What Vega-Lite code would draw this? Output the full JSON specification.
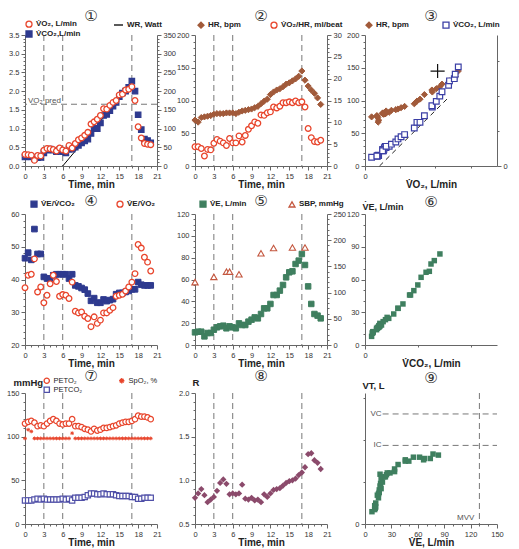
{
"$schema":"https://vega.github.io/schema/vega-lite/v6.json",
"padding":{"left":6,"top":9,"right":0,"bottom":0},
"bounds":"flush",
"columns":3,
"spacing":{"row":48,"column":38},
"resolve":{"scale":{"shape":"independent","fill":"independent","stroke":"independent","color":"independent"},"legend":{"shape":"independent","fill":"independent","stroke":"independent","color":"independent"}},
"datasets":{
"ts":[
{"t":0,"vo2":0.31,"vco2":0.24,"hr":70,"o2p":4.4,"eqco2":46.5,"eqo2":37.5,"ve":11.6,"peto2":115,"petco2":27,"spo2":98,"r":0.80,"vt":0.60},
{"t":0.5,"vo2":0.30,"vco2":0.25,"hr":67,"o2p":4.4,"eqco2":48.2,"eqo2":41.3,"ve":12.2,"peto2":117,"petco2":27,"spo2":108,"r":0.85,"vt":0.65},
{"t":1,"vo2":0.29,"vco2":0.24,"hr":74,"o2p":4.0,"eqco2":46.0,"eqo2":41.6,"ve":12.2,"peto2":118,"petco2":27,"spo2":106,"r":0.90,"vt":0.80},
{"t":1.5,"vo2":0.15,"vco2":0.20,"hr":75,"o2p":2.3,"eqco2":55.4,"eqo2":46.3,"ve":7.9,"peto2":116,"petco2":28,"spo2":98,"r":0.83,"vt":0.47},
{"t":2,"vo2":0.28,"vco2":0.22,"hr":76,"o2p":3.8,"eqco2":47.8,"eqo2":36.2,"ve":11.0,"peto2":112,"petco2":29,"spo2":98,"r":0.75,"vt":0.55},
{"t":2.5,"vo2":0.27,"vco2":0.23,"hr":77,"o2p":3.7,"eqco2":47.8,"eqo2":37.7,"ve":11.0,"peto2":113,"petco2":28,"spo2":98,"r":0.78,"vt":0.70},
{"t":3,"vo2":0.42,"vco2":0.35,"hr":79,"o2p":5.2,"eqco2":40.8,"eqo2":32.9,"ve":14.0,"peto2":112,"petco2":29,"spo2":98,"r":0.81,"vt":1.10},
{"t":3.5,"vo2":0.47,"vco2":0.42,"hr":80,"o2p":6.1,"eqco2":40.3,"eqo2":35.2,"ve":16.2,"peto2":115,"petco2":28,"spo2":98,"r":0.88,"vt":1.30},
{"t":4,"vo2":0.46,"vco2":0.45,"hr":80,"o2p":5.7,"eqco2":40.3,"eqo2":38.7,"ve":17.1,"peto2":118,"petco2":28,"spo2":98,"r":0.97,"vt":1.45},
{"t":4.5,"vo2":0.44,"vco2":0.42,"hr":80,"o2p":5.3,"eqco2":41.3,"eqo2":41.3,"ve":17.7,"peto2":120,"petco2":28,"spo2":98,"r":1.01,"vt":1.55},
{"t":5,"vo2":0.40,"vco2":0.38,"hr":81,"o2p":4.7,"eqco2":41.6,"eqo2":39.4,"ve":15.3,"peto2":118,"petco2":28,"spo2":98,"r":0.96,"vt":1.15},
{"t":5.5,"vo2":0.48,"vco2":0.43,"hr":81,"o2p":6.3,"eqco2":41.6,"eqo2":34.9,"ve":17.1,"peto2":115,"petco2":28,"spo2":98,"r":0.84,"vt":1.90},
{"t":6,"vo2":0.43,"vco2":0.38,"hr":81,"o2p":5.3,"eqco2":41.6,"eqo2":35.4,"ve":16.2,"peto2":114,"petco2":29,"spo2":98,"r":0.85,"vt":1.20},
{"t":6.5,"vo2":0.40,"vco2":0.35,"hr":80,"o2p":5.3,"eqco2":41.6,"eqo2":35.2,"ve":15.3,"peto2":115,"petco2":28,"spo2":98,"r":0.84,"vt":1.00},
{"t":7,"vo2":0.55,"vco2":0.45,"hr":82,"o2p":6.9,"eqco2":40.3,"eqo2":34.2,"ve":19.8,"peto2":115,"petco2":29,"spo2":98,"r":0.85,"vt":1.60},
{"t":7.5,"vo2":0.48,"vco2":0.45,"hr":84,"o2p":5.5,"eqco2":41.6,"eqo2":39.2,"ve":18.3,"peto2":120,"petco2":27,"spo2":104,"r":0.95,"vt":1.75},
{"t":8,"vo2":0.60,"vco2":0.50,"hr":85,"o2p":7.0,"eqco2":38.2,"eqo2":30.3,"ve":18.3,"peto2":112,"petco2":30,"spo2":98,"r":0.79,"vt":1.35},
{"t":8.5,"vo2":0.70,"vco2":0.55,"hr":86,"o2p":8.4,"eqco2":37.9,"eqo2":29.8,"ve":21.4,"peto2":112,"petco2":30,"spo2":98,"r":0.78,"vt":1.80},
{"t":9,"vo2":0.75,"vco2":0.62,"hr":87,"o2p":9.2,"eqco2":37.4,"eqo2":30.1,"ve":23.2,"peto2":111,"petco2":30,"spo2":98,"r":0.80,"vt":1.80},
{"t":9.5,"vo2":0.82,"vco2":0.67,"hr":89,"o2p":10.1,"eqco2":36.9,"eqo2":28.8,"ve":25.3,"peto2":109,"petco2":31,"spo2":98,"r":0.77,"vt":1.95},
{"t":10,"vo2":0.90,"vco2":0.72,"hr":91,"o2p":9.8,"eqco2":35.7,"eqo2":28.1,"ve":24.4,"peto2":108,"petco2":33,"spo2":98,"r":0.78,"vt":1.88},
{"t":10.5,"vo2":1.12,"vco2":0.87,"hr":95,"o2p":11.7,"eqco2":33.5,"eqo2":25.6,"ve":28.4,"peto2":106,"petco2":35,"spo2":98,"r":0.75,"vt":1.95},
{"t":11,"vo2":1.18,"vco2":1.00,"hr":99,"o2p":11.6,"eqco2":34.3,"eqo2":28.6,"ve":33.6,"peto2":109,"petco2":35,"spo2":98,"r":0.84,"vt":2.00},
{"t":11.5,"vo2":1.25,"vco2":1.00,"hr":102,"o2p":12.2,"eqco2":32.9,"eqo2":26.6,"ve":33.6,"peto2":107,"petco2":34,"spo2":98,"r":0.81,"vt":2.10},
{"t":12,"vo2":1.35,"vco2":1.15,"hr":109,"o2p":12.4,"eqco2":32.9,"eqo2":27.6,"ve":37.6,"peto2":108,"petco2":34,"spo2":98,"r":0.85,"vt":2.27},
{"t":12.5,"vo2":1.53,"vco2":1.35,"hr":113,"o2p":13.5,"eqco2":33.9,"eqo2":29.8,"ve":45.8,"peto2":110,"petco2":35,"spo2":98,"r":0.89,"vt":2.40},
{"t":13,"vo2":1.52,"vco2":1.38,"hr":116,"o2p":13.3,"eqco2":33.4,"eqo2":29.8,"ve":45.8,"peto2":110,"petco2":34,"spo2":98,"r":0.90,"vt":2.45},
{"t":13.5,"vo2":1.62,"vco2":1.48,"hr":118,"o2p":13.7,"eqco2":33.7,"eqo2":30.6,"ve":49.8,"peto2":111,"petco2":34,"spo2":98,"r":0.91,"vt":2.40},
{"t":14,"vo2":1.70,"vco2":1.60,"hr":121,"o2p":14.5,"eqco2":34.0,"eqo2":31.4,"ve":55.0,"peto2":112,"petco2":34,"spo2":98,"r":0.94,"vt":2.55},
{"t":14.5,"vo2":1.75,"vco2":1.70,"hr":125,"o2p":14.5,"eqco2":35.5,"eqo2":34.9,"ve":62.0,"peto2":113,"petco2":33,"spo2":98,"r":0.97,"vt":2.55},
{"t":15,"vo2":1.90,"vco2":1.85,"hr":127,"o2p":14.7,"eqco2":35.9,"eqo2":35.2,"ve":66.6,"peto2":115,"petco2":32,"spo2":98,"r":0.99,"vt":2.45},
{"t":15.5,"vo2":1.92,"vco2":1.95,"hr":130,"o2p":14.5,"eqco2":35.9,"eqo2":35.5,"ve":67.5,"peto2":116,"petco2":32,"spo2":98,"r":1.00,"vt":2.50},
{"t":16,"vo2":2.03,"vco2":2.00,"hr":133,"o2p":14.9,"eqco2":36.2,"eqo2":36.5,"ve":74.2,"peto2":117,"petco2":32,"spo2":98,"r":1.02,"vt":2.50},
{"t":16.5,"vo2":2.05,"vco2":2.10,"hr":137,"o2p":14.5,"eqco2":36.5,"eqo2":37.7,"ve":77.3,"peto2":117,"petco2":32,"spo2":98,"r":1.06,"vt":2.67},
{"t":17,"vo2":2.12,"vco2":2.27,"hr":145,"o2p":14.7,"eqco2":37.0,"eqo2":39.2,"ve":83.4,"peto2":118,"petco2":31,"spo2":98,"r":1.09,"vt":2.63},
{"t":17.5,"vo2":1.75,"vco2":2.00,"hr":131,"o2p":13.5,"eqco2":37.0,"eqo2":41.8,"ve":73.3,"peto2":120,"petco2":31,"spo2":98,"r":1.15,"vt":2.60},
{"t":18,"vo2":1.05,"vco2":1.37,"hr":122,"o2p":8.6,"eqco2":39.2,"eqo2":50.7,"ve":53.7,"peto2":124,"petco2":29,"spo2":98,"r":1.30,"vt":2.30},
{"t":18.5,"vo2":0.75,"vco2":0.97,"hr":116,"o2p":6.5,"eqco2":38.4,"eqo2":49.6,"ve":37.6,"peto2":123,"petco2":29,"spo2":98,"r":1.31,"vt":1.90},
{"t":19,"vo2":0.60,"vco2":0.72,"hr":111,"o2p":5.6,"eqco2":38.2,"eqo2":46.8,"ve":28.4,"peto2":123,"petco2":30,"spo2":98,"r":1.23,"vt":1.60},
{"t":19.5,"vo2":0.58,"vco2":0.68,"hr":104,"o2p":5.5,"eqco2":38.2,"eqo2":45.3,"ve":26.9,"peto2":122,"petco2":30,"spo2":98,"r":1.20,"vt":1.50},
{"t":20,"vo2":0.57,"vco2":0.62,"hr":94,"o2p":5.9,"eqco2":38.2,"eqo2":42.6,"ve":24.4,"peto2":120,"petco2":30,"spo2":98,"r":1.13,"vt":1.40}
],
"sbp":[{"t":0,"sbp":120},{"t":3,"sbp":130},{"t":5,"sbp":140},{"t":5.5,"sbp":140},{"t":7,"sbp":135},{"t":10.5,"sbp":175},{"t":12.5,"sbp":185},{"t":15.5,"sbp":186},{"t":17.5,"sbp":186}],
"phases":[{"t":3},{"t":6},{"t":17}],
"wr":[{"t":6,"wr":0},{"t":17,"wr":220}],
"pred":[{"vo2pred":1.65,"hrpred":145,"label":"VO₂ pred"}],
"slope":[{"x":0.33,"y":0},{"x":1.9,"y":1.57}],
"vols":[{"name":"VC","v":4.2},{"name":"IC","v":3.0}],
"mvv":[{"name":"MVV","v":130}]
},
"concat":[
{"width":132,"height":131,"title":{"text":"①","offset":-4},
"resolve":{"scale":{"y":"independent"}},
"layer":[
{"data":{"name":"phases"},"mark":{"type":"rule","color":"#777","strokeDash":[6,4],"strokeWidth":1},
"encoding":{"x":{"field":"t","type":"quantitative","scale":{"domain":[0,21],"nice":false},"axis":{"title":"Time, min","format":"d","tickCount":100,"labelOverlap":false,"values":[0,1,2,3,4,5,6,7,8,9,10,11,12,13,14,15,16,17,18,19,20,21],"labelExpr":"datum.value % 3 === 0 ? datum.label : ''","tickSize":{"condition":{"test":"datum.value % 3 === 0","value":4},"value":2}}}}},
{"data":{"name":"wr"},"mark":{"type":"line","strokeWidth":1},
"encoding":{"x":{"field":"t","type":"quantitative","scale":{"domain":[0,21],"nice":false}},
"y":{"field":"wr","type":"quantitative","scale":{"domain":[0,350],"nice":false},"axis":{"orient":"right","title":null,"format":"d","tickCount":100,"labelOverlap":false,"values":[0,10,20,30,40,50,60,70,80,90,100,110,120,130,140,150,160,170,180,190,200,210,220,230,240,250,260,270,280,290,300,310,320,330,340,350],"labelExpr":"datum.value % 50 === 0 ? datum.label : ''","tickSize":{"condition":{"test":"datum.value % 50 === 0","value":4},"value":2}}},
"stroke":{"datum":"WR, Watt","scale":{"domain":["V̇O₂, L/min","WR, Watt","V̇CO₂,L/min"],"range":["#E8452C","#000000","#2E3A8F"]},"legend":{"orient":"none","title":null,"legendX":0,"legendY":-15,"columnPadding":30,"rowPadding":-10}}}},
{"layer":[
{"data":{"name":"pred"},"mark":{"type":"rule","color":"#777","strokeDash":[6,4],"strokeWidth":1},
"encoding":{"y":{"field":"vo2pred","type":"quantitative","scale":{"domain":[0,3.5],"nice":false},"axis":{"orient":"left","title":null,"format":".1f","tickCount":100,"labelOverlap":false,"values":[0,0.1,0.2,0.3,0.4,0.5,0.6,0.7,0.8,0.9,1,1.1,1.2,1.3,1.4,1.5,1.6,1.7,1.8,1.9,2,2.1,2.2,2.3,2.4,2.5,2.6,2.7,2.8,2.9,3,3.1,3.2,3.3,3.4,3.5],"labelExpr":"round(datum.value*10) % 5 === 0 ? datum.label : ''","tickSize":{"condition":{"test":"round(datum.value*10) % 5 === 0","value":4},"value":2}}}}},
{"data":{"name":"pred"},"mark":{"type":"text","align":"left","baseline":"alphabetic","dx":3,"dy":-1,"fontSize":8,"color":"#555","font":"Liberation Sans"},
"encoding":{"x":{"datum":0,"type":"quantitative"},"y":{"field":"vo2pred","type":"quantitative","scale":{"domain":[0,3.5],"nice":false}},"text":{"field":"label"}}},
{"data":{"name":"ts"},"mark":{"type":"point","opacity":1,"strokeWidth":1.2,"size":30},
"encoding":{"x":{"field":"t","type":"quantitative","scale":{"domain":[0,21],"nice":false}},"y":{"field":"vco2","type":"quantitative","scale":{"domain":[0,3.5],"nice":false}},
"shape":{"datum":"V̇CO₂,L/min","scale":{"domain":["V̇O₂, L/min","WR, Watt","V̇CO₂,L/min"],"range":["circle","M-2,0H1","square"]},"legend":{"orient":"none","title":null,"legendX":0,"legendY":-15,"columnPadding":30,"rowPadding":-10}},
"fill":{"datum":"V̇CO₂,L/min","scale":{"domain":["V̇O₂, L/min","WR, Watt","V̇CO₂,L/min"],"range":["#FFFFFF","transparent","#2E3A8F"]},"legend":{"orient":"none","title":null,"legendX":0,"legendY":-15,"columnPadding":30,"rowPadding":-10}},
"stroke":{"datum":"V̇CO₂,L/min","scale":{"domain":["V̇O₂, L/min","WR, Watt","V̇CO₂,L/min"],"range":["#E8452C","#000000","#2E3A8F"]},"legend":{"orient":"none","title":null,"legendX":0,"legendY":-15,"columnPadding":30,"rowPadding":-10}}}},
{"data":{"name":"ts"},"mark":{"type":"point","opacity":1,"strokeWidth":1.3,"size":32},
"encoding":{"x":{"field":"t","type":"quantitative","scale":{"domain":[0,21],"nice":false}},"y":{"field":"vo2","type":"quantitative","scale":{"domain":[0,3.5],"nice":false}},
"shape":{"datum":"V̇O₂, L/min","scale":{"domain":["V̇O₂, L/min","WR, Watt","V̇CO₂,L/min"],"range":["circle","M-2,0H1","square"]},"legend":{"orient":"none","title":null,"legendX":0,"legendY":-15,"columnPadding":30,"rowPadding":-10}},
"fill":{"datum":"V̇O₂, L/min","scale":{"domain":["V̇O₂, L/min","WR, Watt","V̇CO₂,L/min"],"range":["#FFFFFF","transparent","#2E3A8F"]},"legend":{"orient":"none","title":null,"legendX":0,"legendY":-15,"columnPadding":30,"rowPadding":-10}},
"stroke":{"datum":"V̇O₂, L/min","scale":{"domain":["V̇O₂, L/min","WR, Watt","V̇CO₂,L/min"],"range":["#E8452C","#000000","#2E3A8F"]},"legend":{"orient":"none","title":null,"legendX":0,"legendY":-15,"columnPadding":30,"rowPadding":-10}}}}
]}
]},
{"width":132,"height":131,"title":{"text":"②","offset":-3},
"resolve":{"scale":{"y":"independent"}},
"layer":[
{"data":{"name":"phases"},"mark":{"type":"rule","color":"#777","strokeDash":[6,4],"strokeWidth":1},
"encoding":{"x":{"field":"t","type":"quantitative","scale":{"domain":[0,21],"nice":false},"axis":{"title":"Time, min","format":"d","tickCount":100,"labelOverlap":false,"values":[0,1,2,3,4,5,6,7,8,9,10,11,12,13,14,15,16,17,18,19,20,21],"labelExpr":"datum.value % 3 === 0 ? datum.label : ''","tickSize":{"condition":{"test":"datum.value % 3 === 0","value":4},"value":2}}}}},
{"data":{"name":"ts"},"mark":{"type":"point","opacity":1,"strokeWidth":1,"size":38},
"encoding":{"x":{"field":"t","type":"quantitative","scale":{"domain":[0,21],"nice":false}},
"y":{"field":"hr","type":"quantitative","scale":{"domain":[0,200],"nice":false},"axis":{"orient":"left","title":null,"format":"d","tickCount":100,"labelOverlap":false,"values":[0,10,20,30,40,50,60,70,80,90,100,110,120,130,140,150,160,170,180,190,200],"labelExpr":"datum.value % 50 === 0 ? datum.label : ''","tickSize":{"condition":{"test":"datum.value % 50 === 0","value":4},"value":2}}},
"shape":{"datum":"HR, bpm","scale":{"domain":["HR, bpm","V̇O₂/HR, ml/beat"],"range":["diamond","circle"]},"legend":{"orient":"none","title":null,"legendX":2,"legendY":-14,"columnPadding":27}},
"fill":{"datum":"HR, bpm","scale":{"domain":["HR, bpm","V̇O₂/HR, ml/beat"],"range":["#A15A3A","#FFFFFF"]},"legend":{"orient":"none","title":null,"legendX":2,"legendY":-14,"columnPadding":27}},
"stroke":{"datum":"HR, bpm","scale":{"domain":["HR, bpm","V̇O₂/HR, ml/beat"],"range":["#A15A3A","#E8452C"]},"legend":{"orient":"none","title":null,"legendX":2,"legendY":-14,"columnPadding":27}}}},
{"data":{"name":"ts"},"mark":{"type":"point","opacity":1,"strokeWidth":1.3,"size":32},
"encoding":{"x":{"field":"t","type":"quantitative","scale":{"domain":[0,21],"nice":false}},
"y":{"field":"o2p","type":"quantitative","scale":{"domain":[0,30],"nice":false},"axis":{"orient":"right","title":null,"format":"d","tickCount":100,"labelOverlap":false,"values":[0,1,2,3,4,5,6,7,8,9,10,11,12,13,14,15,16,17,18,19,20,21,22,23,24,25,26,27,28,29,30],"labelExpr":"datum.value % 5 === 0 ? datum.label : ''","tickSize":{"condition":{"test":"datum.value % 5 === 0","value":4},"value":2}}},
"shape":{"datum":"V̇O₂/HR, ml/beat","scale":{"domain":["HR, bpm","V̇O₂/HR, ml/beat"],"range":["diamond","circle"]},"legend":{"orient":"none","title":null,"legendX":2,"legendY":-14,"columnPadding":27}},
"fill":{"datum":"V̇O₂/HR, ml/beat","scale":{"domain":["HR, bpm","V̇O₂/HR, ml/beat"],"range":["#A15A3A","#FFFFFF"]},"legend":{"orient":"none","title":null,"legendX":2,"legendY":-14,"columnPadding":27}},
"stroke":{"datum":"V̇O₂/HR, ml/beat","scale":{"domain":["HR, bpm","V̇O₂/HR, ml/beat"],"range":["#A15A3A","#E8452C"]},"legend":{"orient":"none","title":null,"legendX":2,"legendY":-14,"columnPadding":27}}}}
]},
{"width":132,"height":131,"title":{"text":"③","offset":-3},
"resolve":{"scale":{"y":"independent"}},
"layer":[
{"layer":[
{"data":{"name":"ts"},"transform":[{"filter":"datum.t <= 17"}],"mark":{"type":"point","opacity":1,"strokeWidth":1,"size":38},
"encoding":{"x":{"field":"vo2","type":"quantitative","scale":{"domain":[0,3],"nice":false},"axis":{"title":"V̇O₂, L/min","format":"d","tickCount":100,"labelOverlap":false,"values":[0,0.2,0.4,0.6,0.8,1,1.2,1.4,1.6,1.8,2,2.2,2.4,2.6,2.8,3],"labelExpr":"datum.value % 1 === 0 ? datum.label : ''","tickSize":{"condition":{"test":"datum.value % 1 === 0","value":4},"value":2}}},
"y":{"field":"hr","type":"quantitative","scale":{"domain":[0,200],"nice":false},"axis":{"orient":"left","title":null,"format":"d","tickCount":100,"labelOverlap":false,"values":[0,10,20,30,40,50,60,70,80,90,100,110,120,130,140,150,160,170,180,190,200],"labelExpr":"datum.value % 50 === 0 ? datum.label : ''","tickSize":{"condition":{"test":"datum.value % 50 === 0","value":4},"value":2}}},
"shape":{"datum":"HR, bpm","scale":{"domain":["HR, bpm","V̇CO₂, L/min"],"range":["diamond","square"]},"legend":{"orient":"none","title":null,"legendX":0,"legendY":-14,"columnPadding":31}},
"fill":{"datum":"HR, bpm","scale":{"domain":["HR, bpm","V̇CO₂, L/min"],"range":["#A15A3A","#FFFFFF"]},"legend":{"orient":"none","title":null,"legendX":0,"legendY":-14,"columnPadding":31}},
"stroke":{"datum":"HR, bpm","scale":{"domain":["HR, bpm","V̇CO₂, L/min"],"range":["#A15A3A","#3B3FA5"]},"legend":{"orient":"none","title":null,"legendX":0,"legendY":-14,"columnPadding":31}}}},
{"data":{"name":"pred"},"mark":{"type":"point","opacity":1,"shape":"M-1,0H1M0,-1V1","size":200,"strokeWidth":1.2,"color":"#111"},
"encoding":{"x":{"field":"vo2pred","type":"quantitative","scale":{"domain":[0,3],"nice":false}},"y":{"field":"hrpred","type":"quantitative","scale":{"domain":[0,200],"nice":false}}}}
]},
{"layer":[
{"data":{"name":"slope"},"mark":{"type":"line","color":"#222","strokeWidth":1,"strokeDash":[5,4]},
"encoding":{"x":{"field":"x","type":"quantitative","scale":{"domain":[0,3],"nice":false}},"y":{"field":"y","type":"quantitative","scale":{"domain":[0,3],"nice":false},"axis":{"orient":"right","title":null,"format":"d","tickCount":100,"labelOverlap":false,"values":[0,0.2,0.4,0.6,0.8,1,1.2,1.4,1.6,1.8,2,2.2,2.4,2.6,2.8,3],"labelExpr":"datum.value % 1 === 0 ? datum.label : ''","tickSize":{"condition":{"test":"datum.value % 1 === 0","value":4},"value":2}}}}},
{"data":{"name":"ts"},"transform":[{"filter":"datum.t <= 17"}],"mark":{"type":"point","opacity":1,"strokeWidth":1.2,"size":32},
"encoding":{"x":{"field":"vo2","type":"quantitative","scale":{"domain":[0,3],"nice":false}},"y":{"field":"vco2","type":"quantitative","scale":{"domain":[0,3],"nice":false}},
"shape":{"datum":"V̇CO₂, L/min","scale":{"domain":["HR, bpm","V̇CO₂, L/min"],"range":["diamond","square"]},"legend":{"orient":"none","title":null,"legendX":0,"legendY":-14,"columnPadding":31}},
"fill":{"datum":"V̇CO₂, L/min","scale":{"domain":["HR, bpm","V̇CO₂, L/min"],"range":["#A15A3A","#FFFFFF"]},"legend":{"orient":"none","title":null,"legendX":0,"legendY":-14,"columnPadding":31}},
"stroke":{"datum":"V̇CO₂, L/min","scale":{"domain":["HR, bpm","V̇CO₂, L/min"],"range":["#A15A3A","#3B3FA5"]},"legend":{"orient":"none","title":null,"legendX":0,"legendY":-14,"columnPadding":31}}}}
]}
]},
{"width":132,"height":131,"title":{"text":"④","offset":-9},
"layer":[
{"data":{"name":"phases"},"mark":{"type":"rule","color":"#777","strokeDash":[6,4],"strokeWidth":1},
"encoding":{"x":{"field":"t","type":"quantitative","scale":{"domain":[0,21],"nice":false},"axis":{"title":"Time, min","format":"d","tickCount":100,"labelOverlap":false,"values":[0,1,2,3,4,5,6,7,8,9,10,11,12,13,14,15,16,17,18,19,20,21],"labelExpr":"datum.value % 3 === 0 ? datum.label : ''","tickSize":{"condition":{"test":"datum.value % 3 === 0","value":4},"value":2}}}}},
{"data":{"name":"ts"},"mark":{"type":"point","opacity":1,"strokeWidth":1,"size":32},
"encoding":{"x":{"field":"t","type":"quantitative","scale":{"domain":[0,21],"nice":false}},
"y":{"field":"eqco2","type":"quantitative","scale":{"domain":[20,60],"nice":false},"axis":{"title":null,"format":"d","tickCount":100,"labelOverlap":false,"values":[20,22,24,26,28,30,32,34,36,38,40,42,44,46,48,50,52,54,56,58,60],"labelExpr":"datum.value % 10 === 0 ? datum.label : ''","tickSize":{"condition":{"test":"datum.value % 10 === 0","value":4},"value":2}}},
"shape":{"datum":"V̇E/V̇CO₂","scale":{"domain":["V̇E/V̇CO₂","V̇E/V̇O₂"],"range":["square","circle"]},"legend":{"orient":"none","title":null,"legendX":5,"legendY":-14,"columnPadding":39}},
"fill":{"datum":"V̇E/V̇CO₂","scale":{"domain":["V̇E/V̇CO₂","V̇E/V̇O₂"],"range":["#2E3A8F","#FFFFFF"]},"legend":{"orient":"none","title":null,"legendX":5,"legendY":-14,"columnPadding":39}},
"stroke":{"datum":"V̇E/V̇CO₂","scale":{"domain":["V̇E/V̇CO₂","V̇E/V̇O₂"],"range":["#2E3A8F","#E8452C"]},"legend":{"orient":"none","title":null,"legendX":5,"legendY":-14,"columnPadding":39}}}},
{"data":{"name":"ts"},"mark":{"type":"point","opacity":1,"strokeWidth":1.3,"size":32},
"encoding":{"x":{"field":"t","type":"quantitative","scale":{"domain":[0,21],"nice":false}},
"y":{"field":"eqo2","type":"quantitative","scale":{"domain":[20,60],"nice":false}},
"shape":{"datum":"V̇E/V̇O₂","scale":{"domain":["V̇E/V̇CO₂","V̇E/V̇O₂"],"range":["square","circle"]},"legend":{"orient":"none","title":null,"legendX":5,"legendY":-14,"columnPadding":39}},
"fill":{"datum":"V̇E/V̇O₂","scale":{"domain":["V̇E/V̇CO₂","V̇E/V̇O₂"],"range":["#2E3A8F","#FFFFFF"]},"legend":{"orient":"none","title":null,"legendX":5,"legendY":-14,"columnPadding":39}},
"stroke":{"datum":"V̇E/V̇O₂","scale":{"domain":["V̇E/V̇CO₂","V̇E/V̇O₂"],"range":["#2E3A8F","#E8452C"]},"legend":{"orient":"none","title":null,"legendX":5,"legendY":-14,"columnPadding":39}}}}
]},
{"width":132,"height":131,"title":{"text":"⑤","offset":-9},
"resolve":{"scale":{"y":"independent"}},
"layer":[
{"data":{"name":"phases"},"mark":{"type":"rule","color":"#777","strokeDash":[6,4],"strokeWidth":1},
"encoding":{"x":{"field":"t","type":"quantitative","scale":{"domain":[0,21],"nice":false},"axis":{"title":"Time, min","format":"d","tickCount":100,"labelOverlap":false,"values":[0,1,2,3,4,5,6,7,8,9,10,11,12,13,14,15,16,17,18,19,20,21],"labelExpr":"datum.value % 3 === 0 ? datum.label : ''","tickSize":{"condition":{"test":"datum.value % 3 === 0","value":4},"value":2}}}}},
{"data":{"name":"ts"},"mark":{"type":"point","opacity":1,"strokeWidth":1,"size":30},
"encoding":{"x":{"field":"t","type":"quantitative","scale":{"domain":[0,21],"nice":false}},
"y":{"field":"ve","type":"quantitative","scale":{"domain":[0,120],"nice":false},"axis":{"orient":"left","title":null,"format":"d","tickCount":100,"labelOverlap":false,"values":[0,5,10,15,20,25,30,35,40,45,50,55,60,65,70,75,80,85,90,95,100,105,110,115,120],"labelExpr":"datum.value % 20 === 0 ? datum.label : ''","tickSize":{"condition":{"test":"datum.value % 20 === 0","value":4},"value":2}}},
"shape":{"datum":"V̇E, L/min","scale":{"domain":["V̇E, L/min","SBP, mmHg"],"range":["square","triangle-up"]},"legend":{"orient":"none","title":null,"legendX":4,"legendY":-14,"columnPadding":39}},
"fill":{"datum":"V̇E, L/min","scale":{"domain":["V̇E, L/min","SBP, mmHg"],"range":["#3F7F5F","#FFFFFF"]},"legend":{"orient":"none","title":null,"legendX":4,"legendY":-14,"columnPadding":39}},
"stroke":{"datum":"V̇E, L/min","scale":{"domain":["V̇E, L/min","SBP, mmHg"],"range":["#3F7F5F","#C4573F"]},"legend":{"orient":"none","title":null,"legendX":4,"legendY":-14,"columnPadding":39}}}},
{"data":{"name":"sbp"},"mark":{"type":"point","opacity":1,"strokeWidth":1.1,"size":40},
"encoding":{"x":{"field":"t","type":"quantitative","scale":{"domain":[0,21],"nice":false}},
"y":{"field":"sbp","type":"quantitative","scale":{"domain":[0,250],"nice":false},"axis":{"orient":"right","title":null,"format":"d","tickCount":100,"labelOverlap":false,"values":[0,10,20,30,40,50,60,70,80,90,100,110,120,130,140,150,160,170,180,190,200,210,220,230,240,250],"labelExpr":"datum.value % 50 === 0 ? datum.label : ''","tickSize":{"condition":{"test":"datum.value % 50 === 0","value":4},"value":2}}},
"shape":{"datum":"SBP, mmHg","scale":{"domain":["V̇E, L/min","SBP, mmHg"],"range":["square","triangle-up"]},"legend":{"orient":"none","title":null,"legendX":4,"legendY":-14,"columnPadding":39}},
"fill":{"datum":"SBP, mmHg","scale":{"domain":["V̇E, L/min","SBP, mmHg"],"range":["#3F7F5F","#FFFFFF"]},"legend":{"orient":"none","title":null,"legendX":4,"legendY":-14,"columnPadding":39}},
"stroke":{"datum":"SBP, mmHg","scale":{"domain":["V̇E, L/min","SBP, mmHg"],"range":["#3F7F5F","#C4573F"]},"legend":{"orient":"none","title":null,"legendX":4,"legendY":-14,"columnPadding":39}}}}
]},
{"width":132,"height":131,"title":{"text":"⑥","offset":-8},
"data":{"name":"ts"},"transform":[{"filter":"datum.t <= 17"}],
"mark":{"type":"point","shape":"square","filled":true,"opacity":1,"size":30,"color":"#3F7F5F"},
"encoding":{"x":{"field":"vco2","type":"quantitative","scale":{"domain":[0,4],"nice":false},"axis":{"title":"V̇CO₂, L/min","format":"d","tickCount":100,"labelOverlap":false,"values":[0,0.2,0.4,0.6,0.8,1,1.2,1.4,1.6,1.8,2,2.2,2.4,2.6,2.8,3,3.2,3.4,3.6,3.8,4],"labelExpr":"datum.value % 1 === 0 ? datum.label : ''","tickSize":{"condition":{"test":"datum.value % 1 === 0","value":4},"value":2}}},
"y":{"field":"ve","type":"quantitative","scale":{"domain":[0,120],"nice":false},"axis":{"title":"V̇E, L/min","titleAngle":0,"titleAlign":"left","titleBaseline":"alphabetic","titleX":-3,"titleY":-5,"titleFontSize":9,"format":"d","tickCount":100,"labelOverlap":false,"values":[0,10,20,30,40,50,60,70,80,90,100,110,120],"labelExpr":"datum.value % 30 === 0 ? datum.label : ''","tickSize":{"condition":{"test":"datum.value % 30 === 0","value":4},"value":2}}}}},
{"width":132,"height":131,"title":{"text":"⑦","offset":-7},
"layer":[
{"data":{"name":"phases"},"mark":{"type":"rule","color":"#777","strokeDash":[6,4],"strokeWidth":1},
"encoding":{"x":{"field":"t","type":"quantitative","scale":{"domain":[0,21],"nice":false},"axis":{"title":"Time, min","format":"d","tickCount":100,"labelOverlap":false,"values":[0,1,2,3,4,5,6,7,8,9,10,11,12,13,14,15,16,17,18,19,20,21],"labelExpr":"datum.value % 3 === 0 ? datum.label : ''","tickSize":{"condition":{"test":"datum.value % 3 === 0","value":4},"value":2}}}}},
{"data":{"name":"ts"},"mark":{"type":"point","opacity":1,"strokeWidth":1.2,"size":30},
"encoding":{"x":{"field":"t","type":"quantitative","scale":{"domain":[0,21],"nice":false}},
"y":{"field":"peto2","type":"quantitative","scale":{"domain":[0,150],"nice":false},"axis":{"title":"mmHg","titleAngle":0,"titleAlign":"left","titleBaseline":"alphabetic","titleX":-12,"titleY":-8,"titleFontSize":9.5,"format":"d","tickCount":100,"labelOverlap":false,"values":[0,10,20,30,40,50,60,70,80,90,100,110,120,130,140,150],"labelExpr":"datum.value % 50 === 0 ? datum.label : ''","tickSize":{"condition":{"test":"datum.value % 50 === 0","value":4},"value":2}}},
"shape":{"datum":"PETO₂","scale":{"domain":["PETO₂","SpO₂, %","PETCO₂"],"range":["circle","M-1,0H1M0,-1V1M-0.7,-0.7L0.7,0.7M-0.7,0.7L0.7,-0.7","square"]},"legend":{"orient":"none","title":null,"legendX":18,"legendY":-16,"columnPadding":33,"labelFontWeight":"normal","labelFontSize":7.5,"rowPadding":-3,"symbolSize":28}},
"fill":{"datum":"PETO₂","scale":{"domain":["PETO₂","SpO₂, %","PETCO₂"],"range":["#FFFFFF","transparent","#FFFFFF"]},"legend":{"orient":"none","title":null,"legendX":18,"legendY":-16,"columnPadding":33,"labelFontWeight":"normal","labelFontSize":7.5,"rowPadding":-3,"symbolSize":28}},
"stroke":{"datum":"PETO₂","scale":{"domain":["PETO₂","SpO₂, %","PETCO₂"],"range":["#E8452C","#E8452C","#5050A8"]},"legend":{"orient":"none","title":null,"legendX":18,"legendY":-16,"columnPadding":33,"labelFontWeight":"normal","labelFontSize":7.5,"rowPadding":-3,"symbolSize":28}}}},
{"data":{"name":"ts"},"mark":{"type":"point","opacity":1,"strokeWidth":1.2,"size":28},
"encoding":{"x":{"field":"t","type":"quantitative","scale":{"domain":[0,21],"nice":false}},
"y":{"field":"petco2","type":"quantitative","scale":{"domain":[0,150],"nice":false}},
"shape":{"datum":"PETCO₂","scale":{"domain":["PETO₂","SpO₂, %","PETCO₂"],"range":["circle","M-1,0H1M0,-1V1M-0.7,-0.7L0.7,0.7M-0.7,0.7L0.7,-0.7","square"]},"legend":{"orient":"none","title":null,"legendX":18,"legendY":-16,"columnPadding":33,"labelFontWeight":"normal","labelFontSize":7.5,"rowPadding":-3,"symbolSize":28}},
"fill":{"datum":"PETCO₂","scale":{"domain":["PETO₂","SpO₂, %","PETCO₂"],"range":["#FFFFFF","transparent","#FFFFFF"]},"legend":{"orient":"none","title":null,"legendX":18,"legendY":-16,"columnPadding":33,"labelFontWeight":"normal","labelFontSize":7.5,"rowPadding":-3,"symbolSize":28}},
"stroke":{"datum":"PETCO₂","scale":{"domain":["PETO₂","SpO₂, %","PETCO₂"],"range":["#E8452C","#E8452C","#5050A8"]},"legend":{"orient":"none","title":null,"legendX":18,"legendY":-16,"columnPadding":33,"labelFontWeight":"normal","labelFontSize":7.5,"rowPadding":-3,"symbolSize":28}}}},
{"data":{"name":"ts"},"mark":{"type":"point","opacity":1,"strokeWidth":1,"size":14},
"encoding":{"x":{"field":"t","type":"quantitative","scale":{"domain":[0,21],"nice":false}},
"y":{"field":"spo2","type":"quantitative","scale":{"domain":[0,150],"nice":false}},
"shape":{"datum":"SpO₂, %","scale":{"domain":["PETO₂","SpO₂, %","PETCO₂"],"range":["circle","M-1,0H1M0,-1V1M-0.7,-0.7L0.7,0.7M-0.7,0.7L0.7,-0.7","square"]},"legend":{"orient":"none","title":null,"legendX":18,"legendY":-16,"columnPadding":33,"labelFontWeight":"normal","labelFontSize":7.5,"rowPadding":-3,"symbolSize":28}},
"fill":{"datum":"SpO₂, %","scale":{"domain":["PETO₂","SpO₂, %","PETCO₂"],"range":["#FFFFFF","transparent","#FFFFFF"]},"legend":{"orient":"none","title":null,"legendX":18,"legendY":-16,"columnPadding":33,"labelFontWeight":"normal","labelFontSize":7.5,"rowPadding":-3,"symbolSize":28}},
"stroke":{"datum":"SpO₂, %","scale":{"domain":["PETO₂","SpO₂, %","PETCO₂"],"range":["#E8452C","#E8452C","#5050A8"]},"legend":{"orient":"none","title":null,"legendX":18,"legendY":-16,"columnPadding":33,"labelFontWeight":"normal","labelFontSize":7.5,"rowPadding":-3,"symbolSize":28}}}}
]},
{"width":132,"height":131,"title":{"text":"⑧","offset":-7},
"layer":[
{"data":{"name":"phases"},"mark":{"type":"rule","color":"#777","strokeDash":[6,4],"strokeWidth":1},
"encoding":{"x":{"field":"t","type":"quantitative","scale":{"domain":[0,21],"nice":false},"axis":{"title":"Time, min","format":"d","tickCount":100,"labelOverlap":false,"values":[0,1,2,3,4,5,6,7,8,9,10,11,12,13,14,15,16,17,18,19,20,21],"labelExpr":"datum.value % 3 === 0 ? datum.label : ''","tickSize":{"condition":{"test":"datum.value % 3 === 0","value":4},"value":2}}}}},
{"data":{"name":"ts"},"mark":{"type":"point","shape":"diamond","filled":true,"opacity":1,"size":40,"color":"#8B4A6B"},
"encoding":{"x":{"field":"t","type":"quantitative","scale":{"domain":[0,21],"nice":false}},
"y":{"field":"r","type":"quantitative","scale":{"domain":[0.5,2],"nice":false},"axis":{"title":"R","titleAngle":0,"titleAlign":"left","titleBaseline":"alphabetic","titleX":-3,"titleY":-8,"titleFontSize":9.5,"format":".1f","tickCount":100,"labelOverlap":false,"values":[0.5,0.6,0.7,0.8,0.9,1,1.1,1.2,1.3,1.4,1.5,1.6,1.7,1.8,1.9,2],"labelExpr":"round(datum.value*10) % 5 === 0 ? datum.label : ''","tickSize":{"condition":{"test":"round(datum.value*10) % 5 === 0","value":4},"value":2}}}}}
]},
{"width":132,"height":131,"title":{"text":"⑨","offset":-6},
"layer":[
{"data":{"name":"vols"},"mark":{"type":"rule","color":"#777","strokeDash":[6,4],"strokeWidth":1},
"encoding":{"x":{"datum":20,"type":"quantitative","scale":{"domain":[0,150],"nice":false},"axis":{"title":"V̇E, L/min","format":"d","tickCount":100,"labelOverlap":false,"values":[0,10,20,30,40,50,60,70,80,90,100,110,120,130,140,150],"labelExpr":"datum.value % 30 === 0 ? datum.label : ''","tickSize":{"condition":{"test":"datum.value % 30 === 0","value":4},"value":2}}},"x2":{"datum":150},
"y":{"field":"v","type":"quantitative","scale":{"domain":[0,5],"nice":false},"axis":{"title":"VT, L","titleAngle":0,"titleAlign":"left","titleBaseline":"alphabetic","titleX":-3,"titleY":-5,"titleFontSize":9.5,"format":"d","tickCount":100,"labelOverlap":false,"values":[0,0.2,0.4,0.6,0.8,1,1.2,1.4,1.6,1.8,2,2.2,2.4,2.6,2.8,3,3.2,3.4,3.6,3.8,4,4.2,4.4,4.6,4.8,5],"labelExpr":"datum.value % 1 === 0 ? datum.label : ''","tickSize":{"condition":{"test":"datum.value % 1 === 0","value":4},"value":2}}}}},
{"data":{"name":"vols"},"mark":{"type":"text","align":"right","baseline":"middle","dx":-1,"fontSize":8,"color":"#555","font":"Liberation Sans"},
"encoding":{"x":{"datum":20,"type":"quantitative"},"y":{"field":"v","type":"quantitative"},"text":{"field":"name"}}},
{"data":{"name":"mvv"},"mark":{"type":"rule","color":"#777","strokeDash":[6,4],"strokeWidth":1},
"encoding":{"x":{"field":"v","type":"quantitative"}}},
{"data":{"name":"mvv"},"mark":{"type":"text","align":"right","baseline":"bottom","dx":-5,"dy":-2,"fontSize":8,"color":"#555","font":"Liberation Sans"},
"encoding":{"x":{"field":"v","type":"quantitative"},"y":{"datum":0,"type":"quantitative"},"text":{"field":"name"}}},
{"data":{"name":"ts"},"transform":[{"filter":"datum.t <= 17"}],"mark":{"type":"point","shape":"square","filled":true,"opacity":1,"size":30,"color":"#3F7F5F"},
"encoding":{"x":{"field":"ve","type":"quantitative"},"y":{"field":"vt","type":"quantitative"}}}
]}
],
"config":{
"view":{"stroke":null},
"font":"Liberation Sans",
"title":{"font":"DejaVu Sans","fontSize":15,"fontWeight":"normal","color":"#333","anchor":"middle"},
"axis":{"labelFont":"Liberation Sans","labelFontSize":7.5,"labelColor":"#333","titleFont":"Liberation Sans","titleFontSize":10,"titleFontWeight":"bold","titleColor":"#222","domainColor":"#666","tickColor":"#666","grid":false,"labelFlush":false,"labelOverlap":false,"labelPadding":2,"titlePadding":0},
"legend":{"orient":"none","direction":"horizontal","columns":2,"labelFont":"Liberation Sans","labelFontSize":8,"labelFontWeight":"bold","labelColor":"#222","symbolSize":36,"symbolStrokeWidth":1.3,"labelOffset":3,"padding":0,"rowPadding":1,"titlePadding":0}
}
}
